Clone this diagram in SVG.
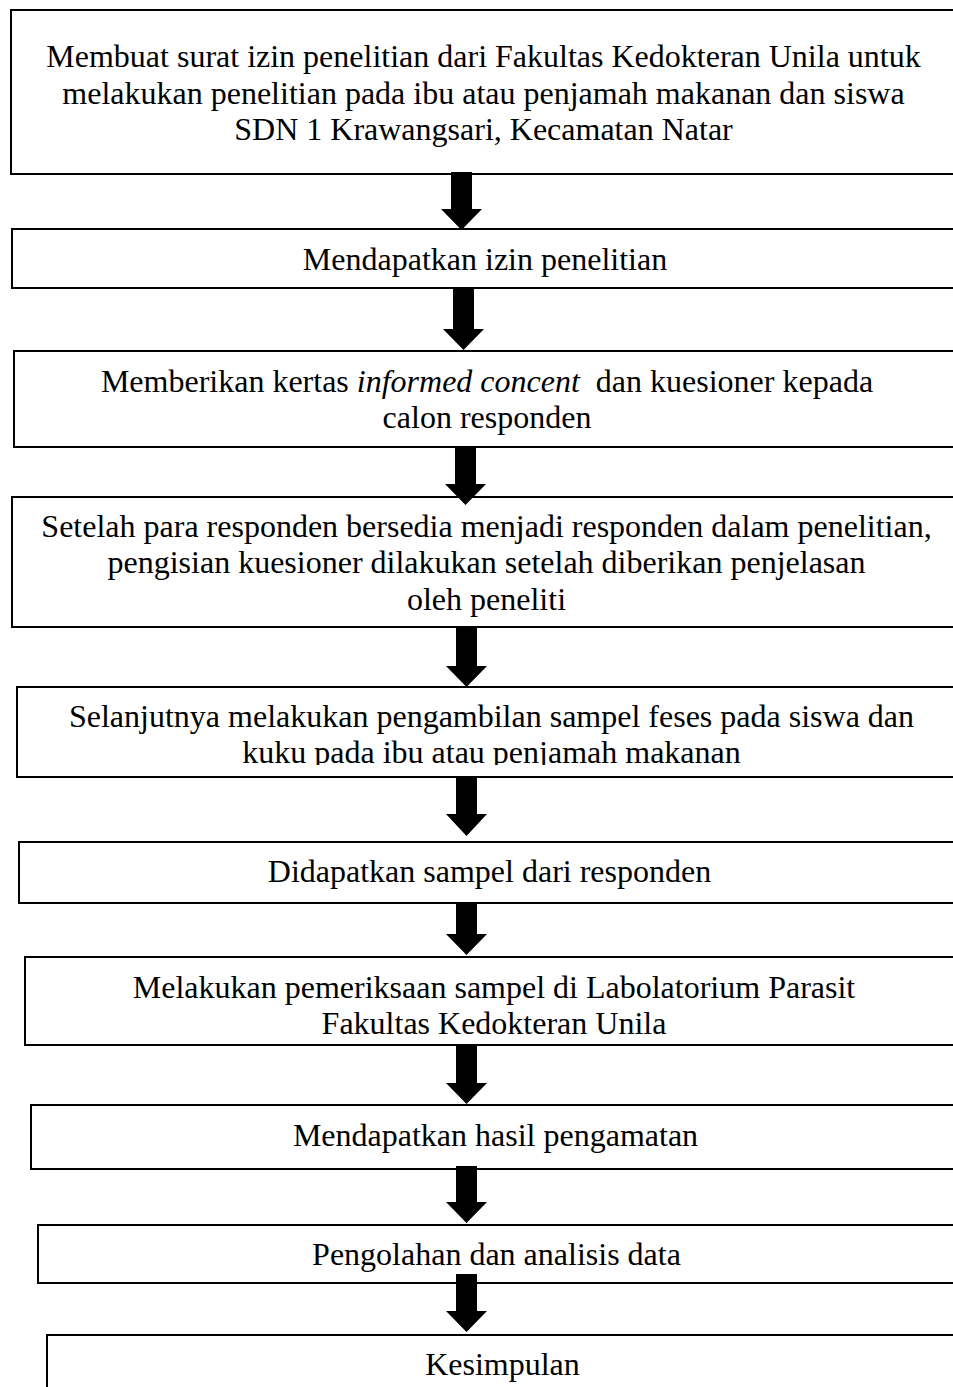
<svg xmlns="http://www.w3.org/2000/svg" width="953" height="1387" viewBox="0 0 953 1387">
<style>
.box{fill:#ffffff;stroke:#000000;stroke-width:2}
.t{font-family:"Liberation Serif","Times New Roman",serif;font-size:32px;fill:#000000;text-anchor:middle}
.arr{fill:#000000;stroke:none}
</style>
<defs>
<clipPath id="clip5"><rect x="0" y="680" width="953" height="85"/></clipPath>
</defs>
<rect x="0" y="0" width="953" height="1387" fill="#ffffff"/>
<g id="node1">
<rect class="box" x="11" y="10" width="970" height="164"/>
<text class="t" x="483.5" y="67">Membuat surat izin penelitian dari Fakultas Kedokteran Unila untuk</text>
<text class="t" x="483.5" y="104">melakukan penelitian pada ibu atau penjamah makanan dan siswa</text>
<text class="t" x="483.5" y="140">SDN 1 Krawangsari, Kecamatan Natar</text>
</g>
<g id="node2">
<rect class="box" x="12" y="229" width="970" height="59"/>
<text class="t" x="485" y="270">Mendapatkan izin penelitian</text>
</g>
<g id="node3">
<rect class="box" x="14" y="351" width="970" height="96"/>
<text class="t" x="487" y="392" xml:space="preserve">Memberikan kertas <tspan font-style="italic">informed concent</tspan>  dan kuesioner kepada</text>
<text class="t" x="487" y="428">calon responden</text>
</g>
<g id="node4">
<rect class="box" x="12" y="497" width="970" height="130"/>
<text class="t" x="486.5" y="537">Setelah para responden bersedia menjadi responden dalam penelitian,</text>
<text class="t" x="486.5" y="573">pengisian kuesioner dilakukan setelah diberikan penjelasan</text>
<text class="t" x="486.5" y="610">oleh peneliti</text>
</g>
<g id="node5">
<rect class="box" x="17" y="687" width="970" height="90"/>
<g clip-path="url(#clip5)">
<text class="t" x="491.5" y="727">Selanjutnya melakukan pengambilan sampel feses pada siswa dan</text>
<text class="t" x="491.5" y="763">kuku pada ibu atau penjamah makanan</text>
</g>
</g>
<g id="node6">
<rect class="box" x="19" y="842" width="970" height="61"/>
<text class="t" x="489.5" y="882">Didapatkan sampel dari responden</text>
</g>
<g id="node7">
<rect class="box" x="25" y="957" width="970" height="88"/>
<text class="t" x="494" y="998">Melakukan pemeriksaan sampel di Labolatorium Parasit</text>
<text class="t" x="494" y="1034">Fakultas Kedokteran Unila</text>
</g>
<g id="node8">
<rect class="box" x="31" y="1105" width="970" height="64"/>
<text class="t" x="495.5" y="1146">Mendapatkan hasil pengamatan</text>
</g>
<g id="node9">
<rect class="box" x="38" y="1225" width="970" height="58"/>
<text class="t" x="496.5" y="1265">Pengolahan dan analisis data</text>
</g>
<g id="node10">
<rect class="box" x="47" y="1335" width="970" height="80"/>
<text class="t" x="502.5" y="1375">Kesimpulan</text>
</g>
<g id="connectors">
<polygon class="arr" points="451,172 472,172 472,209 482,209 461.5,230 441,209 451,209"/>
<polygon class="arr" points="453,289 474,289 474,329 484,329 463.5,350 443,329 453,329"/>
<polygon class="arr" points="455,447 476,447 476,484 486,484 465.5,505 445,484 455,484"/>
<polygon class="arr" points="456,628 477,628 477,666 487,666 466.5,687 446,666 456,666"/>
<polygon class="arr" points="456,777 477,777 477,814 487,814 466.5,836 446,814 456,814"/>
<polygon class="arr" points="456,903 477,903 477,934 487,934 466.5,955 446,934 456,934"/>
<polygon class="arr" points="456,1046 477,1046 477,1083 487,1083 466.5,1104 446,1083 456,1083"/>
<polygon class="arr" points="456,1166 477,1166 477,1202 487,1202 466.5,1223 446,1202 456,1202"/>
<polygon class="arr" points="456,1274 477,1274 477,1311 487,1311 466.5,1332 446,1311 456,1311"/>
</g>
</svg>
